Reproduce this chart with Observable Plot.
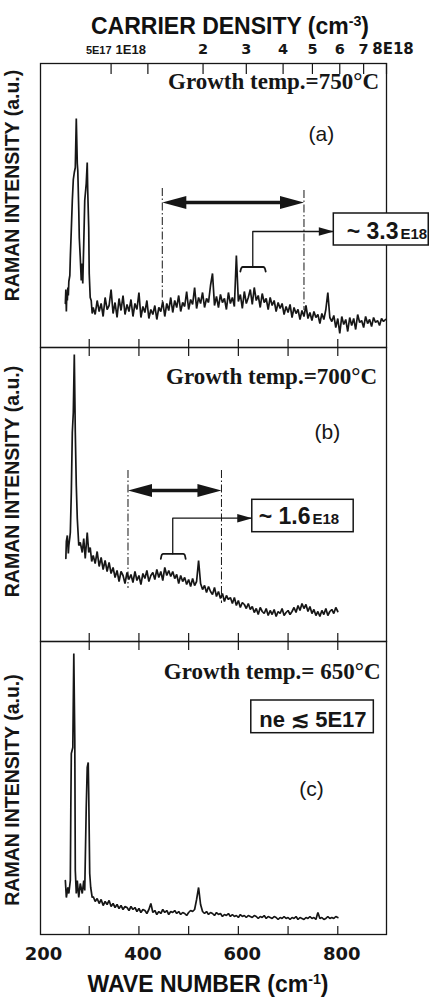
<!DOCTYPE html>
<html><head><meta charset="utf-8">
<script src="https://cdn.jsdelivr.net/npm/d3@7"></script>
<script src="https://cdn.jsdelivr.net/npm/@observablehq/plot@0.6"></script>
<style>
body{margin:0;background:#fff;}
#wrap{position:relative;width:437px;height:997px;overflow:hidden;background:#fff;font-family:"Liberation Sans",Arial,sans-serif;color:#111;}
.ttl{position:absolute;font-weight:bold;white-space:nowrap;line-height:1;transform:translateX(-50%);z-index:2;}
.ttl sup{font-size:0.62em;vertical-align:0;position:relative;top:-0.55em;}
</style></head><body><div id="wrap"></div>
<script>
// ---------------- DATA ----------------
// Bottom axis: wave number (cm-1)
const xTicks = [300, 400, 500, 600, 700, 800];
const xTickLabels = [200, 400, 600, 800];
// Top axis: carrier density ticks and the wave number each one falls on
const densityLabels = ["5E17", "1E18", "2", "3", "4", "5", "6", "7", "8E18"];
const densityWn = [344, 418, 529, 616, 690, 749, 804, 852, 898];

const panelNames = ["(a)", "(b)", "(c)"];
const tempLabels = ["Growth temp.=750°C", "Growth temp.=700°C", "Growth temp.= 650°C"];
const densityValues = ["~ 3.3", "~ 1.6"];
const densityExp = "E18";
const undopedLabel = "ne ≲ 5E17";

// Spectra: [wave number, intensity] around the phonon peaks, then a regular grid
const gridStartWn = 308, gridStepWn = 4;

const peakA = [[252,44],[253,58],[254,36],[255,55],[256,47],[257,60],[258,52],[259,66],[261,72],[262,90],[264,118],[266,147],[268,168],[270,175],[272,180],[274,229],[276,184],[277,177],[279,137],[280,110],[282,90],[284,67],[286,84],[287,64],[289,104],[291,147],[294,164],[296,185],[297,157],[299,120],[300,74],[302,50],[304,47],[306,34]];
const gridA = [
 40,33,47,36,44,31,50,38,42,58,
 34,45,30,49,37,52,33,43,36,48,
 31,44,38,55,30,41,35,47,29,38,
 33,42,28,40,36,46,31,44,37,50,
 35,47,40,52,36,45,41,56,38,48,
 43,60,39,50,44,55,40,49,45,62,
 74,42,51,40,53,45,49,38,55,44,
 50,41,92,46,53,39,56,44,50,58,
 43,60,47,52,40,54,45,49,38,50,
 42,47,36,45,39,44,33,41,35,43,
 30,40,34,38,28,37,31,42,29,35,
 27,36,30,33,24,34,28,38,55,30,
 26,32,20,29,14,31,23,28,16,30,
 22,29,18,33,25,27,20,31,24,28,
 21,30,25,27,22,29,26,28];

const peakB = [[253,83],[254,100],[256,106],[258,88],[259,96],[261,104],[262,109],[264,149],[266,209],[268,229],[270,287],[272,209],[274,156],[276,123],[279,96],[282,99],[286,89],[289,103],[292,83],[296,109],[299,89],[302,94],[305,80]];
const gridB = [
 86,78,90,75,84,72,81,70,79,68,
 74,64,71,60,70,66,58,69,62,67,
 59,70,61,66,57,68,63,71,60,66,
 69,62,72,64,70,61,74,66,71,65,
 70,63,67,58,66,60,64,57,62,55,
 63,56,60,81,58,52,56,49,55,50,
 47,54,45,50,43,48,40,46,42,44,
 38,44,36,41,34,39,37,33,38,32,
 35,29,33,27,34,30,28,33,26,31,
 27,32,25,30,28,33,26,29,31,27,
 30,34,29,36,31,38,33,37,30,35,
 28,32,26,30,25,31,27,33,26,30,
 32,28,34,30];

const peakC = [[252,54],[254,37],[257,47],[259,41],[262,54],[263,127],[264,181],[267,187],[269,281],[271,194],[272,64],[274,41],[276,54],[279,37],[282,51],[286,41],[289,54],[291,44],[294,127],[296,167],[298,172],[299,141],[301,61],[303,47],[306,37]];
const gridC = [
 38,33,36,31,35,29,33,30,34,28,
 31,27,30,26,29,25,28,27,24,28,
 25,27,23,26,22,25,24,21,25,31,
 22,24,20,23,21,25,22,24,20,23,
 22,24,21,23,20,22,21,19,22,24,
 23,25,35,47,30,23,21,23,20,22,
 21,19,22,20,21,18,20,19,21,18,
 20,18,19,17,20,18,19,17,19,18,
 17,19,18,16,18,17,19,16,18,17,
 16,18,17,15,17,16,18,16,17,15,
 17,16,18,15,17,16,15,17,16,18,
 16,17,15,22,16,17,15,16,18,16,
 17,16,18,17];

// Plasmon-band annotations (wave number, intensity)
const bandLimits = [[447, 732], [378, 566]];
const plasmonCentre = [629, 468];
const plasmonWidth = [[604, 655], [444, 494]];

// ---------------- DRAWING ----------------
function spectrum(peak, grid) {
  return peak.map(([wn, intensity]) => ({wn, intensity}))
    .concat(grid.map((intensity, k) => ({wn: gridStartWn + gridStepWn * k, intensity})));
}
const spectra = [spectrum(peakA, gridA), spectrum(peakB, gridB), spectrum(peakC, gridC)];

const INK = "#161616";
const SANS = "Liberation Sans, Arial, sans-serif";
const SERIF = "Liberation Serif, Times New Roman, serif";
const DEJA = "DejaVu Sans, Verdana, sans-serif";

const bigHead = {draw(ctx) { ctx.moveTo(0, 0); ctx.lineTo(-24, -6.5); ctx.lineTo(-24, 6.5); ctx.closePath(); }};
const smallHead = {draw(ctx) { ctx.moveTo(0, 0); ctx.lineTo(-15, -4.2); ctx.lineTo(-15, 4.2); ctx.closePath(); }};

const wrap = document.getElementById("wrap");

// layout of the three stacked panels
const layout = [
  {H: 284, top: 0, mt: 63, mb: 2, labelDy: -20},
  {H: 294, top: 345, mt: 2, mb: 2, labelDy: -13},
  {H: 293, top: 639, mt: 2, mb: 63, labelDy: 2}
];
// annotation placement (in data units of each panel)
const place = [
  {temp: [883, 258.7], name: [767, 207],
   dash: [[159, 45], [157, 37]], arrowY: 145,
   bracketTop: 80.5, bracketEnd: 76, leaderY: 116, boxX: [792, 983], boxY: [102, 134], valueAt: [922, 109]},
  {temp: [879, 258], name: [779, 203],
   dash: [[171, 53], [171, 38]], arrowY: 151,
   bracketTop: 87.7, bracketEnd: 82.7, leaderY: 123.3, boxX: [628, 832], boxY: [109.3, 141.7], valueAt: [745, 118]},
  {temp: [886, 256], name: [747, 139], boxX: [626, 872.5], boxY: [201.3, 234], undopedAt: [750, 208]}
];

layout.forEach((L, p) => {
  const P = place[p];
  const marks = [];
  // y label
  marks.push(Plot.text(["RAMAN INTENSITY (a.u.)"], {text: d => d, frameAnchor: "left", textAnchor: "middle", lineAnchor: "middle", rotate: -90, dx: -28, dy: L.labelDy, fontSize: 19.5, fontWeight: "bold", fontFamily: SANS, fill: INK}));
  // inward ticks
  marks.push(Plot.ruleX(xTicks, {x: d => d, y1: 0, y2: 8, stroke: INK, strokeWidth: 1.2}));
  if (p === 0) {
    marks.push(Plot.ruleX(densityWn, {x: d => d, y1: L.H, y2: L.H - 11, stroke: INK, strokeWidth: 1.2}));
    const dens = densityLabels.map((label, i) => ({label, wn: densityWn[i]}));
    const common = {x: "wn", text: "label", frameAnchor: "top", lineAnchor: "bottom", dy: -10, fontWeight: "bold", fill: INK};
    marks.push(Plot.text(dens.filter(d => d.label === "5E17"), {...common, textAnchor: "end", dx: 0.5, fontSize: 11, fontFamily: SANS}));
    marks.push(Plot.text(dens.filter(d => d.label === "1E18"), {...common, textAnchor: "end", dx: -2, fontSize: 13, fontFamily: SANS}));
    marks.push(Plot.text(dens.filter(d => d.label.length === 1), {...common, fontSize: 14.5, fontFamily: DEJA}));
    marks.push(Plot.text(dens.filter(d => d.label === "8E18"), {...common, dx: 6.5, fontSize: 15, fontFamily: DEJA}));
  } else {
    marks.push(Plot.ruleX(xTicks, {x: d => d, y1: L.H, y2: L.H - 9, stroke: INK, strokeWidth: 1.2}));
  }
  if (p === 2) {
    marks.push(Plot.axisX(xTickLabels, {anchor: "bottom", tickSize: 0, tickPadding: 13, dx: 4, fontSize: 18, fontFamily: DEJA, fontWeight: "bold", label: null, tickFormat: d => String(d), fill: INK}));
  }
  marks.push(Plot.frame({stroke: INK, strokeWidth: 1.3}));
  // spectrum
  marks.push(Plot.line(spectra[p], {x: "wn", y: "intensity", stroke: INK, strokeWidth: 1.7, strokeLinejoin: "miter"}));
  // texts
  marks.push(Plot.text([tempLabels[p]], {text: d => d, x: P.temp[0], y: P.temp[1], textAnchor: "end", lineAnchor: "bottom", fontSize: 23, fontWeight: "bold", fontFamily: SERIF, fill: INK}));
  marks.push(Plot.text([panelNames[p]], {text: d => d, x: P.name[0], y: P.name[1], lineAnchor: "bottom", fontSize: 21, fontWeight: "normal", fontFamily: SANS, fill: INK}));

  if (p < 2) {
    const [lo, hi] = bandLimits[p];
    const dashes = [{wn: lo, y1: P.dash[0][0], y2: P.dash[0][1]}, {wn: hi, y1: P.dash[1][0], y2: P.dash[1][1]}];
    marks.push(Plot.ruleX(dashes, {x: "wn", y1: "y1", y2: "y2", stroke: INK, strokeWidth: 1, strokeDasharray: "8,2.5,1.5,2.5"}));
    marks.push(Plot.ruleY([{lo, hi, y: P.arrowY}], {x1: "lo", x2: "hi", y: "y", stroke: INK, strokeWidth: 3.6, insetLeft: 12, insetRight: 12}));
    marks.push(Plot.dot([{wn: hi, y: P.arrowY, r: 0}, {wn: lo, y: P.arrowY, r: 180}], {x: "wn", y: "y", rotate: "r", symbol: bigHead, fill: INK, stroke: "none"}));
    const [b1, b2] = plasmonWidth[p];
    const bracket = [[b1, P.bracketEnd], [b1 + 2, P.bracketTop - 1], [b1 + 5, P.bracketTop], [b2 - 5, P.bracketTop], [b2 - 2, P.bracketTop - 1], [b2, P.bracketEnd]];
    marks.push(Plot.line(bracket, {x: d => d[0], y: d => d[1], curve: "monotone-x", stroke: INK, strokeWidth: 1.8}));
    const c = plasmonCentre[p];
    marks.push(Plot.line([[c, P.bracketTop], [c, P.leaderY], [P.boxX[0], P.leaderY]], {x: d => d[0], y: d => d[1], stroke: INK, strokeWidth: 1.3}));
    marks.push(Plot.rect([{}], {x1: P.boxX[0], x2: P.boxX[1], y1: P.boxY[0], y2: P.boxY[1], fill: "white", stroke: INK, strokeWidth: 1.5}));
    marks.push(Plot.dot([{wn: P.boxX[0], y: P.leaderY}], {x: "wn", y: "y", symbol: smallHead, fill: INK, stroke: "none"}));
    marks.push(Plot.text([densityValues[p]], {text: d => d, x: P.valueAt[0], y: P.valueAt[1], textAnchor: "end", lineAnchor: "bottom", fontSize: 23, fontWeight: "bold", fontFamily: SANS, fill: INK}));
    marks.push(Plot.text([densityExp], {text: d => d, x: P.valueAt[0], y: P.valueAt[1], dx: 2, textAnchor: "start", lineAnchor: "bottom", fontSize: 15, fontWeight: "bold", fontFamily: SANS, fill: INK}));
  } else {
    marks.push(Plot.rect([{}], {x1: P.boxX[0], x2: P.boxX[1], y1: P.boxY[0], y2: P.boxY[1], fill: "white", stroke: INK, strokeWidth: 1.5}));
    marks.push(Plot.text([undopedLabel], {text: d => d, x: P.undopedAt[0], y: P.undopedAt[1], lineAnchor: "bottom", fontSize: 22, fontWeight: "bold", fontFamily: SANS, fill: INK}));
  }

  const svg = Plot.plot({
    width: 437, height: L.mt + L.H + L.mb,
    marginLeft: 40, marginRight: 51, marginTop: L.mt, marginBottom: L.mb,
    x: {domain: [202, 898], axis: null},
    y: {domain: [0, L.H], axis: null},
    style: {background: "transparent", overflow: "visible", fontFamily: SANS, color: INK},
    marks
  });
  svg.style.position = "absolute";
  svg.style.left = "0px";
  svg.style.top = L.top + "px";
  wrap.append(svg);
});

// titles
const t1 = document.createElement("div");
t1.className = "ttl";
t1.style.cssText = "left:230px;top:15px;font-size:23px;";
t1.innerHTML = "CARRIER DENSITY (cm<sup>-3</sup>)";
wrap.append(t1);
const t2 = document.createElement("div");
t2.className = "ttl";
t2.style.cssText = "left:208px;top:973px;font-size:23px;";
t2.innerHTML = "WAVE NUMBER (cm<sup>-1</sup>)";
wrap.append(t2);
</script></body></html>
